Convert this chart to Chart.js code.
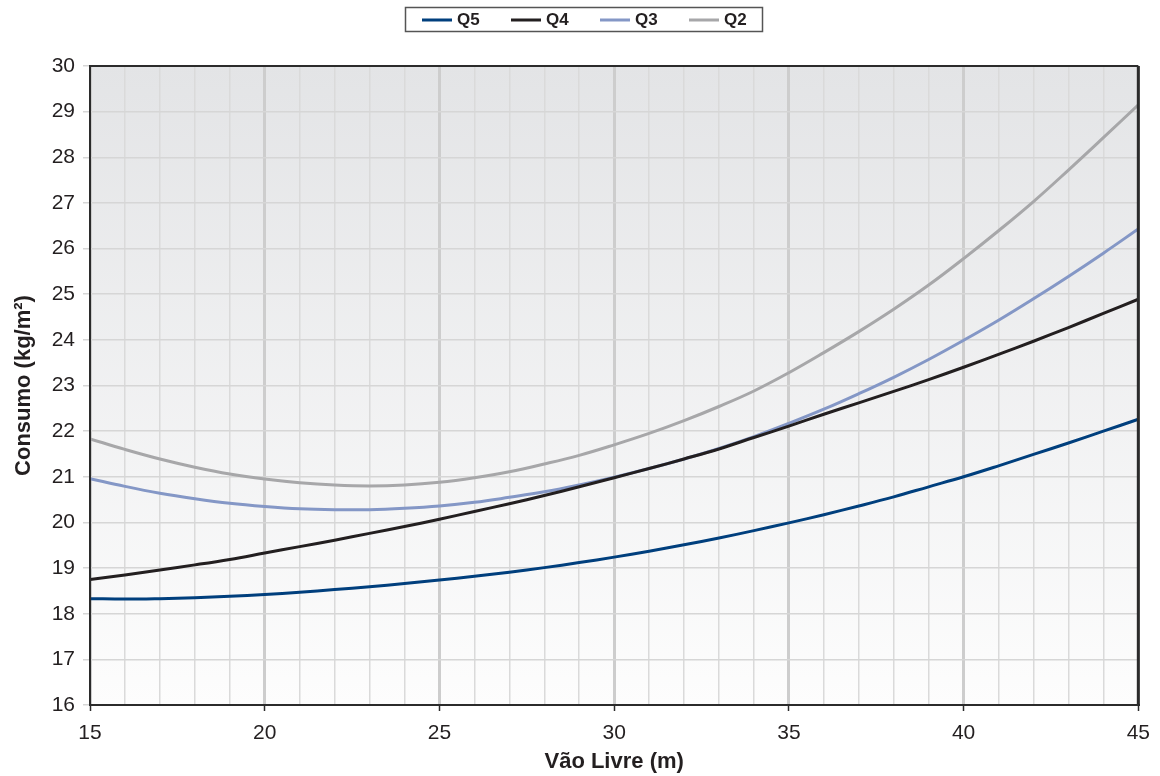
<!DOCTYPE html>
<html>
<head>
<meta charset="utf-8">
<title>Consumo x Vão Livre</title>
<script src="https://cdn.jsdelivr.net/npm/chart.js@4.4.1/dist/chart.umd.min.js"></script>
<style>
  html, body { margin: 0; padding: 0; background: #fff; }
  #box { width: 1160px; height: 776px; }
</style>
</head>
<body>
<div id="box"><canvas id="consumoChart" width="1160" height="776"></canvas></div>
<script>
// vão livre (m)
var vaos = [15, 16, 17, 18, 19, 20, 21, 22, 23, 24, 25, 26, 27, 28, 29, 30,
            31, 32, 33, 34, 35, 36, 37, 38, 39, 40, 41, 42, 43, 44, 45];

// consumo (kg/m2)
var q5 = [18.33, 18.32, 18.33, 18.35, 18.38, 18.42, 18.47, 18.53, 18.59, 18.66, 18.74,
          18.82, 18.91, 19.01, 19.12, 19.24, 19.37, 19.51, 19.66, 19.82, 19.99,
          20.17, 20.36, 20.56, 20.78, 21.00, 21.24, 21.49, 21.74, 22.00, 22.26];
var q4 = [18.75, 18.85, 18.96, 19.07, 19.19, 19.33, 19.47, 19.61, 19.76, 19.91, 20.07,
          20.24, 20.41, 20.59, 20.78, 20.98, 21.18, 21.39, 21.61, 21.86, 22.11,
          22.37, 22.62, 22.87, 23.13, 23.40, 23.68, 23.97, 24.27, 24.58, 24.89];
var q3 = [20.96, 20.79, 20.64, 20.52, 20.42, 20.35, 20.30, 20.28, 20.28, 20.31, 20.36,
          20.44, 20.55, 20.67, 20.82, 20.99, 21.18, 21.39, 21.62, 21.88, 22.17,
          22.48, 22.82, 23.18, 23.57, 23.99, 24.43, 24.90, 25.39, 25.90, 26.43];
var q2 = [21.83, 21.60, 21.39, 21.21, 21.06, 20.95, 20.87, 20.82, 20.80, 20.82, 20.88,
          20.98, 21.11, 21.28, 21.47, 21.70, 21.95, 22.23, 22.54, 22.88, 23.28,
          23.72, 24.18, 24.67, 25.20, 25.78, 26.39, 27.03, 27.72, 28.43, 29.15];

var serieNomi = ["Q5", "Q4", "Q3", "Q2"];
var serieColori = ["#003f7d", "#231f20", "#8497c6", "#a7a7a9"];

var fontTick = { family: "'Liberation Sans', Arial, sans-serif", size: 21 };
var fontTitolo = { family: "'Liberation Sans', Arial, sans-serif", size: 22, weight: "bold" };

// trasforma x e y in punti per il chart
function getPunti(valori) {
  var punti = [];
  for (var i = 0; i < vaos.length; i++) {
    punti.push({ x: vaos[i], y: valori[i] });
  }
  return punti;
}

// sfondo sfumato dell'area del grafico
var sfondoPlugin = {
  id: "sfondo",
  beforeDraw: function(chart) {
    var a = chart.chartArea;
    var ctx = chart.ctx;
    var grad = ctx.createLinearGradient(0, a.top, 0, a.bottom);
    grad.addColorStop(0, "#e3e4e6");
    grad.addColorStop(1, "#fdfdfd");
    ctx.save();
    ctx.fillStyle = grad;
    ctx.fillRect(a.left, a.top, a.right - a.left, a.bottom - a.top);
    ctx.restore();
  }
};

// cornice scura + legenda con bordo
var cornicePlugin = {
  id: "cornice",
  afterDraw: function(chart) {
    var a = chart.chartArea;
    var ctx = chart.ctx;
    ctx.save();
    ctx.strokeStyle = "#2b2b2b";
    ctx.lineWidth = 2;
    ctx.beginPath();
    ctx.moveTo(a.left, a.bottom);
    ctx.lineTo(a.left, a.top);
    ctx.lineTo(a.right, a.top);
    ctx.stroke();
    ctx.lineWidth = 3;
    ctx.beginPath();
    ctx.moveTo(a.right, a.top);
    ctx.lineTo(a.right, a.bottom);
    ctx.stroke();

    // legenda
    ctx.lineWidth = 1.5;
    ctx.strokeStyle = "#555";
    ctx.strokeRect(405.5, 7.5, 357, 24);
    ctx.font = "bold 17px 'Liberation Sans', Arial, sans-serif";
    ctx.textBaseline = "middle";
    ctx.fillStyle = "#231f20";
    for (var i = 0; i < serieNomi.length; i++) {
      var x0 = 422 + i * 89;
      ctx.strokeStyle = serieColori[i];
      ctx.lineWidth = 3;
      ctx.beginPath();
      ctx.moveTo(x0, 20);
      ctx.lineTo(x0 + 30, 20);
      ctx.stroke();
      ctx.fillText(serieNomi[i], x0 + 35, 20);
    }
    ctx.restore();
  }
};

function printChart() {
  var serie = [q5, q4, q3, q2];
  var datasets = [];
  for (var i = 0; i < serie.length; i++) {
    datasets.push({
      label: serieNomi[i],
      data: getPunti(serie[i]),
      borderColor: serieColori[i],
      backgroundColor: serieColori[i],
      borderWidth: 3,
      pointRadius: 0,
      tension: 0.4,
      fill: false
    });
  }

  var ctx = document.getElementById("consumoChart").getContext("2d");
  var myChart = new Chart(ctx, {
    type: "line",
    data: { datasets: datasets },
    options: {
      responsive: false,
      animation: false,
      layout: { padding: { left: 0, right: 21, top: 66, bottom: 0 } },
      plugins: {
        legend: { display: false },
        tooltip: { enabled: false }
      },
      scales: {
        x: {
          type: "linear",
          min: 15,
          max: 45,
          afterFit: function(scale) { scale.height = 71; },
          border: { display: true, color: "#2b2b2b", width: 2 },
          grid: {
            color: function(c) { return c.tick && c.tick.value % 5 === 0 ? "#cdcdcd" : "#dadada"; },
            lineWidth: function(c) { return c.tick && c.tick.value % 5 === 0 ? 3 : 1.5; },
            tickColor: function(c) { return c.tick && c.tick.value % 5 === 0 ? "#2b2b2b" : "rgba(0,0,0,0)"; },
            tickWidth: 1.5,
            tickLength: 6
          },
          ticks: {
            stepSize: 1,
            autoSkip: false,
            maxRotation: 0,
            padding: 10,
            color: "#231f20",
            font: fontTick,
            callback: function(v) { return v % 5 === 0 ? v : ""; }
          },
          title: {
            display: true,
            text: "Vão Livre (m)",
            color: "#231f20",
            font: fontTitolo,
            padding: { top: 0, bottom: 1 }
          }
        },
        y: {
          min: 16,
          max: 30,
          afterFit: function(scale) { scale.width = 90; },
          border: { display: true, color: "#2b2b2b", width: 2 },
          grid: {
            color: "#d6d6d6",
            lineWidth: 1.5,
            tickLength: 7
          },
          ticks: {
            stepSize: 1,
            padding: 8,
            color: "#231f20",
            font: fontTick
          },
          title: {
            display: true,
            text: "Consumo (kg/m²)",
            color: "#231f20",
            font: fontTitolo,
            padding: { top: 11, bottom: 0 }
          }
        }
      }
    },
    plugins: [sfondoPlugin, cornicePlugin]
  });
}

printChart();
</script>
</body>
</html>
